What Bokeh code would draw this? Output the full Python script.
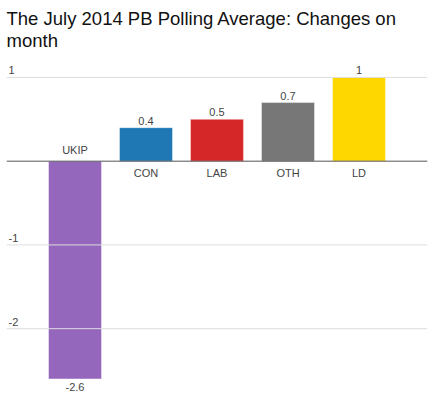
from bokeh.plotting import figure
from bokeh.models import ColumnDataSource, Range1d, Title, Span
from bokeh.core.properties import value
from bokeh.embed import file_html
from bokeh.resources import INLINE

parties = ["UKIP", "CON", "LAB", "OTH", "LD"]
changes = [-2.6, 0.4, 0.5, 0.7, 1.0]
value_labels = ["-2.6", "0.4", "0.5", "0.7", "1"]
colors = ["#9467bd", "#1f77b4", "#d62728", "#777777", "#ffd700"]
grid_ticks = [1, -1, -2]
grid_labels = ["1", "-1", "-2"]

xs = list(range(len(parties)))
pos = [c >= 0 for c in changes]

src = ColumnDataSource(dict(
    x=xs, top=changes, color=colors, party=parties, vlabel=value_labels,
    vy=changes,
    vbase=["bottom" if p else "top" for p in pos],
    voff=[-3 if p else 4 for p in pos],
    cbase=["top" if p else "bottom" for p in pos],
    coff=[6 if p else -5 for p in pos],
))

X0, X1 = -0.965, 4.965
p = figure(width=440, height=396, output_backend="svg", toolbar_location=None,
           x_range=Range1d(X0, X1), y_range=Range1d(-2.762, 1.25),
           min_border_left=6, min_border_right=13, min_border_top=0, min_border_bottom=4)
p.title = Title(text="The July 2014 PB Polling Average: Changes on\nmonth",
                text_font="Liberation Sans", text_font_size="18.5px",
                text_font_style="normal", text_color="#111111", offset=0,
                text_line_height=1.08)
p.outline_line_color = None
p.xaxis.visible = False
p.yaxis.visible = False
p.xgrid.visible = False
p.ygrid.visible = False

for t in grid_ticks:
    p.add_layout(Span(location=t, dimension="width", line_color="#dddddd", line_width=1))

p.vbar(x="x", top="top", bottom=0, width=0.746, fill_color="color",
       line_color="white", line_alpha=0.4, line_width=1, source=src)

p.add_layout(Span(location=0, dimension="width", line_color="#555555", line_width=1))

p.text(x="x", y="vy", text="vlabel", y_offset="voff", text_baseline="vbase",
       text_align="center", text_font=value("Liberation Sans"), text_font_size="11px",
       text_color="#444444", source=src)
p.text(x="x", y=0, text="party", y_offset="coff", text_baseline="cbase",
       text_align="center", text_font=value("Liberation Sans"), text_font_size="11px",
       text_color="#444444", source=src)

gsrc = ColumnDataSource(dict(x=[X0] * len(grid_ticks), y=grid_ticks, t=grid_labels))
p.text(x="x", y="y", text="t", x_offset=2, y_offset=-3, text_baseline="bottom",
       text_align="left", text_font=value("Liberation Sans"), text_font_size="11px",
       text_color="#444444", source=gsrc)

open("out.html", "w").write(file_html(p, INLINE))
